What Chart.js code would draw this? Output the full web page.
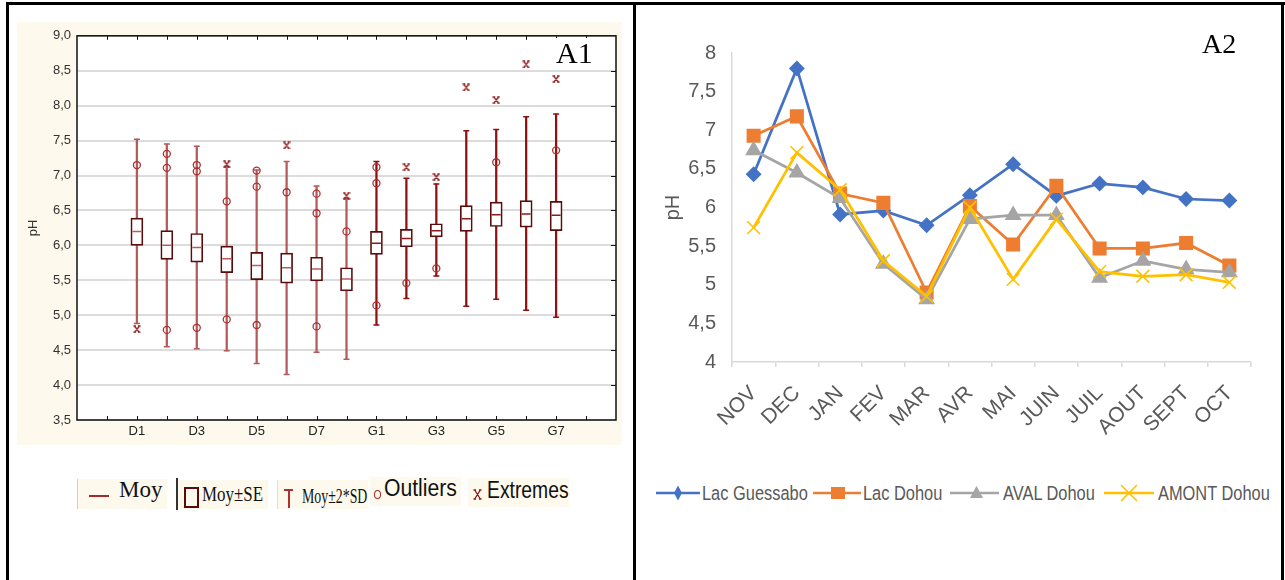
<!DOCTYPE html>
<html>
<head>
<meta charset="utf-8">
<script src="https://cdn.jsdelivr.net/npm/chart.js@4.4.0/dist/chart.umd.min.js"></script>
<style>
body{margin:0;background:#fff;width:1285px;height:580px;position:relative;overflow:hidden;font-family:'Liberation Sans',Arial,sans-serif}
.ln{position:absolute;background:#000}
.abs{position:absolute}
.cream{position:absolute;background:#fdf9ed}
#boxWrap{position:absolute;left:17px;top:22px;width:605px;height:423px;background:#fdf9ed}
#lineWrap{position:absolute;left:645px;top:25px;width:630px;height:430px}
.tag{position:absolute;font-family:'Liberation Serif','Times New Roman',serif;color:#000;background:#fff;line-height:1;padding:0 3px}
.lg{position:absolute;line-height:1;white-space:nowrap;transform-origin:left center;display:inline-block}
.serif{font-family:'Liberation Serif','Times New Roman',serif;color:#111}
.sans{font-family:'Liberation Sans',Arial,sans-serif;color:#111}
.lg2{position:absolute;line-height:1;white-space:nowrap;font-size:20px;color:#595959;transform:scaleX(.82);transform-origin:left center}
</style>
</head>
<body>
<!-- frame lines of the figure -->
<div class="ln" style="left:6px;top:2px;width:1279px;height:2.5px"></div>
<div class="ln" style="left:6px;top:2px;width:2.5px;height:578px"></div>
<div class="ln" style="left:633px;top:2px;width:2.5px;height:578px"></div>
<div class="ln" style="left:1281px;top:2px;width:2.5px;height:578px"></div>

<div id="boxWrap"><canvas id="boxChart" width="605" height="423"></canvas></div>
<div class="tag" style="left:553px;top:38px;font-size:30px">A1</div>

<!-- A1 legend -->
<div class="cream" style="left:78px;top:479px;width:89px;height:30px"></div>
<div class="abs" style="left:77px;top:479px;width:1px;height:30px;background:#ccc"></div>
<div class="abs" style="left:89px;top:495px;width:20px;height:2px;background:#a52a2a"></div>
<div class="lg serif" style="left:119px;top:478px;font-size:23px">Moy</div>

<div class="abs" style="left:176px;top:478px;width:1.5px;height:32px;background:#333"></div>
<div class="cream" style="left:178px;top:480px;width:90px;height:29px"></div>
<div class="abs" style="left:184px;top:487px;width:11px;height:17px;border:2px solid #5a0a0a"></div>
<div class="lg serif" style="left:202px;top:483px;font-size:22px;transform:scaleX(.77)">Moy±SE</div>

<div class="cream" style="left:278px;top:480px;width:90px;height:29px"></div>
<div class="abs" style="left:277px;top:480px;width:1px;height:29px;background:#ddd"></div>
<div class="abs" style="left:284px;top:489px;width:9px;height:1.5px;background:#b03030"></div>
<div class="abs" style="left:288px;top:489px;width:1.5px;height:19px;background:#b03030"></div>
<div class="lg serif" style="left:302px;top:485px;font-size:22px;transform:scaleX(.63)">Moy±2*SD</div>

<div class="cream" style="left:370px;top:477px;width:91px;height:29px"></div>
<div class="abs" style="left:374px;top:490px;width:5px;height:7px;border:1.5px solid #a52a2a;border-radius:50%"></div>
<div class="lg sans" style="left:384px;top:477px;font-size:23px;transform:scaleX(.92)">Outliers</div>

<div class="cream" style="left:468px;top:478px;width:101px;height:29px"></div>
<canvas id="extLegend" class="abs" style="left:473px;top:489px" width="9" height="11"></canvas>
<div class="lg sans" style="left:487px;top:479px;font-size:23px;transform:scaleX(.84)">Extremes</div>

<div id="lineWrap"><canvas id="lineChart" width="630" height="430"></canvas></div>
<div class="tag" style="left:1199px;top:30px;font-size:28px">A2</div>

<!-- A2 legend -->
<svg class="abs" style="left:656px;top:483px" width="46" height="20">
  <line x1="0" y1="10" x2="44" y2="10" stroke="#4472C4" stroke-width="2.5"/>
  <polygon points="22,2.5 26,10 22,17.5 18,10" fill="#4472C4"/>
</svg>
<div class="lg2" style="left:702px;top:483px">Lac Guessabo</div>
<svg class="abs" style="left:813px;top:483px" width="48" height="20">
  <line x1="0" y1="10" x2="48" y2="10" stroke="#ED7D31" stroke-width="2.5"/>
  <rect x="18" y="4" width="14" height="12" fill="#ED7D31"/>
</svg>
<div class="lg2" style="left:863px;top:483px">Lac Dohou</div>
<svg class="abs" style="left:950px;top:483px" width="50" height="20">
  <line x1="0" y1="10" x2="49" y2="10" stroke="#A5A5A5" stroke-width="2.5"/>
  <polygon points="26.5,3 33,15 20,15" fill="#A5A5A5"/>
</svg>
<div class="lg2" style="left:1003px;top:483px">AVAL Dohou</div>
<svg class="abs" style="left:1104px;top:483px" width="52" height="20">
  <line x1="0" y1="10" x2="50" y2="10" stroke="#FFC000" stroke-width="2.5"/>
  <path d="M17,2 L33,18 M33,2 L17,18" stroke="#FFC000" stroke-width="1.6"/>
</svg>
<div class="lg2" style="left:1158px;top:483px">AMONT Dohou</div>

<script>
// ---------- A1 : box plot data ----------
var cats = ['D1','D2','D3','D4','D5','D6','D7','D8','G1','G2','G3','G4','G5','G6','G7'];
var moy  = [6.20, 6.00, 5.97, 5.81, 5.71, 5.68, 5.66, 5.52, 6.03, 6.10, 6.21, 6.38, 6.44, 6.45, 6.43];
var seLo = [6.00, 5.80, 5.76, 5.61, 5.51, 5.46, 5.49, 5.35, 5.87, 5.98, 6.12, 6.20, 6.27, 6.26, 6.21];
var seHi = [6.39, 6.21, 6.17, 5.99, 5.90, 5.89, 5.83, 5.68, 6.20, 6.23, 6.31, 6.57, 6.62, 6.64, 6.63];
var sdLo = [4.88, 4.55, 4.52, 4.49, 4.31, 4.15, 4.47, 4.37, 4.86, 5.24, 5.56, 5.13, 5.23, 5.07, 4.97];
var sdHi = [7.52, 7.45, 7.42, 7.13, 7.08, 7.20, 6.85, 6.67, 7.20, 6.96, 6.88, 7.64, 7.66, 7.84, 7.88];
var outliers = [['D1',7.15],['D2',7.31],['D2',7.11],['D2',4.79],['D3',7.15],['D3',7.06],['D3',4.82],
                ['D4',6.63],['D4',4.94],['D5',7.07],['D5',6.84],['D5',4.86],['D6',6.76],['D7',6.74],
                ['D7',6.46],['D7',4.84],['D8',6.20],['G1',7.12],['G1',6.89],['G1',5.14],['G2',5.46],
                ['G3',5.67],['G5',7.19],['G7',7.36]];
var extremes = [['D1',4.80],['D4',7.16],['D6',7.43],['D8',6.71],['G2',7.12],['G3',6.98],
                ['G4',8.26],['G5',8.08],['G6',8.59],['G7',8.38]];

// ---------- A2 : monthly pH ----------
var months     = ['NOV','DEC','JAN','FEV','MAR','AVR','MAI','JUIN','JUIL','AOUT','SEPT','OCT'];
var guessabo   = [6.43, 7.80, 5.91, 5.96, 5.77, 6.16, 6.56, 6.15, 6.31, 6.26, 6.11, 6.09];
var lacDohou   = [6.93, 7.18, 6.18, 6.06, 4.90, 6.02, 5.52, 6.28, 5.47, 5.47, 5.54, 5.25];
var avalDohou  = [6.74, 6.45, 6.12, 5.27, 4.81, 5.85, 5.90, 5.90, 5.09, 5.31, 5.20, 5.16];
var amontDohou = [5.74, 6.71, 6.23, 5.31, 4.85, 6.00, 5.07, 5.85, 5.17, 5.11, 5.13, 5.03];

Chart.defaults.font.family = "'Liberation Sans', Arial, sans-serif";
Chart.defaults.animation = false;
Chart.defaults.events = [];
Chart.defaults.plugins.tooltip.enabled = false;
Chart.defaults.plugins.legend.display = false;

// slot on the x axis: one empty slot on each side
function catX(name){ return cats.indexOf(name) + 2; }
function isG(ctx){ return ctx.raw && ctx.raw.x >= catX('G1'); }

function extremeMark(w, h){
    var c = document.createElement('canvas');
    c.width = w; c.height = h;
    var g = c.getContext('2d');
    g.strokeStyle = '#8b1a1a';
    g.lineWidth = 1.3;
    g.beginPath();
    g.moveTo(2, 1.5); g.lineTo(w-2, h-1.5);
    g.moveTo(w-2, 1.5); g.lineTo(2, h-1.5);
    g.moveTo(0.5, 1); g.lineTo(3, 1);
    g.moveTo(w-3, 1); g.lineTo(w-0.5, 1);
    g.moveTo(0.5, h-1); g.lineTo(3, h-1);
    g.moveTo(w-3, h-1); g.lineTo(w-0.5, h-1);
    g.stroke();
    return c;
}
var extImg = extremeMark(8, 8);
(function(){
    var lc = document.getElementById('extLegend').getContext('2d');
    lc.drawImage(extremeMark(9, 11), 0, 0);
})();

var framePlugin = {
    id: 'frame',
    beforeDraw: function(chart){
        var a = chart.chartArea, ctx = chart.ctx;
        ctx.save();
        ctx.fillStyle = '#ffffff';
        ctx.fillRect(a.left, a.top, a.right - a.left, a.bottom - a.top);
        ctx.restore();
    },
    beforeDatasetsDraw: function(chart){
        var a = chart.chartArea, ctx = chart.ctx;
        var xs = chart.scales.x, ys = chart.scales.y;
        ctx.save();
        ctx.strokeStyle = '#111';
        ctx.lineWidth = 1.5;
        ctx.strokeRect(a.left, a.top, a.right - a.left, a.bottom - a.top);
        ctx.lineWidth = 1;
        ctx.beginPath();
        for (var v = 1; v < 18; v++) {
            var px = Math.round(xs.getPixelForValue(v)) + 0.5;
            ctx.moveTo(px, a.bottom); ctx.lineTo(px, a.bottom - 4);
            ctx.moveTo(px, a.top); ctx.lineTo(px, a.top + 4);
        }
        for (var y = 4; y < 9; y += 0.5) {
            var py = Math.round(ys.getPixelForValue(y)) + 0.5;
            ctx.moveTo(a.right, py); ctx.lineTo(a.right - 5, py);
        }
        ctx.stroke();
        ctx.restore();
    }
};

var whiskCol = function(ctx){ return isG(ctx) ? '#8e1111' : '#b45a5a'; };
var meanCol  = function(ctx){ return isG(ctx) ? '#8b1a1a' : '#c05a5a'; };

var capPts = [];
cats.forEach(function(c, i){
    capPts.push({x: i + 2, y: sdHi[i]});
    capPts.push({x: i + 2, y: sdLo[i]});
});

new Chart(document.getElementById('boxChart'), {
    type: 'scatter',
    data: {
        datasets: [
            {
                type: 'bar', label: 'Moy±2*SD',
                data: cats.map(function(c, i){ return {x: i + 2, y: [sdLo[i], sdHi[i]]}; }),
                backgroundColor: whiskCol, barThickness: 1.6, grouped: false, borderWidth: 0, order: 6
            },
            {
                type: 'bar', label: 'Moy±SE',
                data: cats.map(function(c, i){ return {x: i + 2, y: [seLo[i], seHi[i]]}; }),
                backgroundColor: '#ffffff', borderColor: '#5a0c0c', borderWidth: 1.7,
                borderSkipped: false, barThickness: 12, grouped: false, order: 5
            },
            {
                label: 'caps', data: capPts, pointStyle: 'line', pointRadius: 3,
                borderColor: whiskCol, borderWidth: 1.5, order: 4
            },
            {
                label: 'Moy',
                data: cats.map(function(c, i){ return {x: i + 2, y: moy[i]}; }),
                pointStyle: 'line', pointRadius: 4.5, borderColor: meanCol, borderWidth: 1.5, order: 3
            },
            {
                label: 'Outliers',
                data: outliers.map(function(o){ return {x: catX(o[0]), y: o[1]}; }),
                pointStyle: 'circle', pointRadius: 3.5, backgroundColor: 'rgba(0,0,0,0)',
                borderColor: '#b03030', borderWidth: 1.3, order: 2
            },
            {
                label: 'Extremes',
                data: extremes.map(function(o){ return {x: catX(o[0]), y: o[1]}; }),
                pointStyle: extImg, order: 1
            }
        ]
    },
    options: {
        responsive: false,
        layout: { padding: { top: 7, right: 3, left: 0, bottom: 0 } },
        scales: {
            x: {
                type: 'linear', min: 0, max: 18, offset: false,
                ticks: {
                    stepSize: 1, autoSkip: false, maxRotation: 0, padding: 4,
                    color: '#222', font: { size: 13 },
                    callback: function(v){
                        var i = v - 2;
                        return (i >= 0 && i < cats.length && i % 2 === 0) ? cats[i] : '';
                    }
                },
                grid: { display: false, offset: false, drawTicks: false },
                border: { display: false },
                afterFit: function(s){ s.height = 25; }
            },
            y: {
                min: 3.5, max: 9, beginAtZero: false,
                ticks: {
                    stepSize: 0.5, padding: 6, color: '#333', font: { size: 13 },
                    callback: function(v){ return v.toFixed(1).replace('.', ','); }
                },
                grid: { color: '#dcdcdc', lineWidth: 2, drawTicks: false },
                border: { display: false },
                title: { display: true, text: 'pH', color: '#333', font: { size: 13 }, padding: { top: 9, bottom: 0 } },
                afterFit: function(s){ s.width = 60; }
            }
        }
    },
    plugins: [framePlugin]
});

new Chart(document.getElementById('lineChart'), {
    type: 'line',
    data: {
        labels: months,
        datasets: [
            { label: 'Lac Guessabo', data: guessabo, borderColor: '#4472C4', backgroundColor: '#4472C4',
              pointStyle: 'rectRot', pointRadius: 6, borderWidth: 2.75, tension: 0, order: 3 },
            { label: 'Lac Dohou', data: lacDohou, borderColor: '#ED7D31', backgroundColor: '#ED7D31',
              pointStyle: 'rect', pointRadius: 8, borderWidth: 2.75, tension: 0, order: 2 },
            { label: 'AVAL Dohou', data: avalDohou, borderColor: '#A5A5A5', backgroundColor: '#A5A5A5',
              pointStyle: 'triangle', pointRadius: 7, borderWidth: 2.75, tension: 0, order: 1 },
            { label: 'AMONT Dohou', data: amontDohou, borderColor: '#FFC000', backgroundColor: '#FFC000',
              pointStyle: 'crossRot', pointRadius: 9, pointBorderWidth: 1.6, borderWidth: 2.75, tension: 0, order: 0 }
        ]
    },
    options: {
        responsive: false,
        layout: { padding: { top: 22, right: 24, left: 0, bottom: 0 } },
        scales: {
            x: {
                offset: true,
                ticks: { color: '#595959', font: { size: 21 }, maxRotation: 45, minRotation: 45, padding: 14, autoSkip: false },
                grid: { offset: true, drawOnChartArea: false, drawTicks: true, tickLength: 5, color: '#d9d9d9', lineWidth: 1.5 },
                border: { color: '#d9d9d9', width: 1.5 },
                afterFit: function(s){ s.height = 93; }
            },
            y: {
                min: 4, max: 8,
                ticks: {
                    stepSize: 0.5, padding: 16, color: '#595959', font: { size: 20 },
                    callback: function(v){ return String(v).replace('.', ','); }
                },
                grid: { display: false, drawTicks: false },
                border: { color: '#d9d9d9', width: 1.5 },
                title: { display: true, text: 'pH', color: '#595959', font: { size: 20 }, padding: { top: 16, bottom: 0 } },
                afterFit: function(s){ s.width = 87; }
            }
        }
    }
});
</script>
</body>
</html>
